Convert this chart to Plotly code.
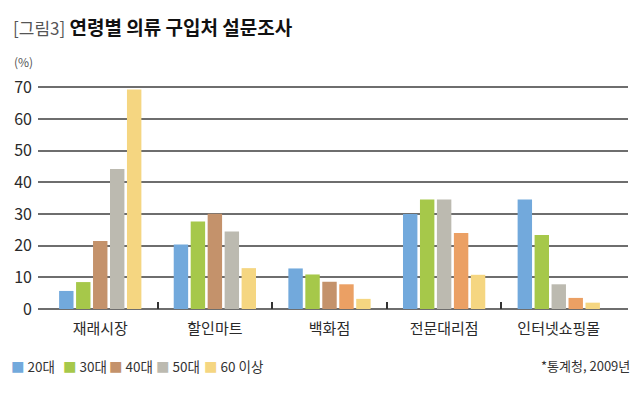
import plotly.graph_objects as go

categories = ["재래시장", "할인마트", "백화점", "전문대리점", "인터넷쇼핑몰"]
series_names = ["20대", "30대", "40대", "50대", "60 이상"]
v20 = [5.7, 20.4, 12.8, 30.0, 34.6]
v30 = [8.5, 27.6, 10.9, 34.6, 23.4]
v40 = [21.5, 30.1, 8.6, 34.6, 7.8]
v50 = [44.2, 24.5, 7.8, 24.0, 3.5]
v60 = [69.3, 12.9, 3.2, 10.8, 2.0]
y_ticks = [0, 10, 20, 30, 40, 50, 60, 70]

BLUE = "#72a9dc"
GREEN = "#a6c84a"
BROWN = "#c4926b"
GRAY = "#bcbab0"
YELLOW = "#f5d681"
ORANGE = "#eba064"

# per-bar colours as they appear in the original picture
bar_colors = [
    [BLUE] * 5,
    [GREEN] * 5,
    [BROWN, BROWN, BROWN, GRAY, GRAY],
    [GRAY, GRAY, ORANGE, ORANGE, ORANGE],
    [YELLOW] * 5,
]
legend_colors = [BLUE, GREEN, BROWN, GRAY, YELLOW]
values = [v20, v30, v40, v50, v60]

FONT = "Noto Sans CJK KR"

# the page body has an 8px margin, so the figure is drawn 8px right/down
OFF = 8
W, H = 640 - OFF, 398 - OFF
PL, PR, PT, PB = 38, 628, 86, 309          # plot area in reference pixels
PW, PH = PR - PL, PB - PT

def px(x):
    return (x - PL) / PW

def py(y):
    return (PB - y) / PH

fig = go.Figure()
for name, vals, cols in zip(series_names, values, bar_colors):
    fig.add_trace(go.Bar(
        x=categories, y=vals, name=name,
        marker=dict(color=cols, line=dict(width=0)),
        showlegend=False,
    ))

x_range = [-0.543, 4.604]

# legend built as text annotations (compact, like the original)
legend_x = [9, 61, 107, 154, 202]
legend_ann = []
for name, col, lx in zip(series_names, legend_colors, legend_x):
    legend_ann.append(dict(
        text=f"<span style='color:{col}'>■</span> {name}",
        xref="paper", yref="paper", x=px(lx), y=py(366),
        xanchor="left", yanchor="middle", showarrow=False,
        font=dict(family=FONT, size=13.5, color="#333"),
    ))

fig.update_layout(
    width=W, height=H,
    margin=dict(l=PL - OFF, r=W - (PR - OFF), t=PT - OFF, b=H - (PB - OFF), autoexpand=False),
    paper_bgcolor="white", plot_bgcolor="white",
    barmode="group", bargap=0.26, bargroupgap=0.15,
    font=dict(family=FONT, color="#333333"),
    showlegend=False,
    title=dict(
        text="<span style='font-weight:normal;color:#555;font-size:17px'>[그림3]</span> <b>연령별 의류 구입처 설문조사</b>",
        xref="container", yref="container", x=(13 - OFF) / W, y=(H - (28 - OFF)) / H,
        xanchor="left", yanchor="middle",
        font=dict(family=FONT, size=19, color="#111111"),
    ),
    xaxis=dict(
        range=x_range, showgrid=False, zeroline=False, showline=False,
        ticks="", tickfont=dict(family=FONT, size=15, color="#2a2a2a"),
        ticklabelstandoff=9,
    ),
    xaxis2=dict(
        overlaying="x", anchor="y", range=x_range,
        tickmode="array", tickvals=[0.5, 1.5, 2.5, 3.5],
        ticks="inside", ticklen=7, tickwidth=1.5, tickcolor="#333",
        showticklabels=False, showgrid=False, zeroline=False, showline=False,
    ),
    yaxis=dict(
        range=[0, 70.4], tickmode="array", tickvals=y_ticks,
        showgrid=True, gridcolor="#6e6e6e", gridwidth=2,
        zeroline=True, zerolinecolor="#6e6e6e", zerolinewidth=2,
        tickfont=dict(family=FONT, size=16, color="#2a2a2a"),
        ticklabelstandoff=5,
    ),
    annotations=[
        dict(text="(%)", xref="paper", yref="paper", x=px(12), y=py(62),
             xanchor="left", yanchor="middle", showarrow=False,
             font=dict(family=FONT, size=12, color="#555")),
        dict(text="*통계청, 2009년", xref="paper", yref="paper", x=px(632), y=py(365),
             xanchor="right", yanchor="middle", showarrow=False,
             font=dict(family=FONT, size=13, color="#333")),
    ] + legend_ann,
)
# give xaxis2 something to attach to
fig.add_trace(go.Scatter(x=[None], y=[None], xaxis="x2", showlegend=False, hoverinfo="skip"))

fig.write_html("out.html")
